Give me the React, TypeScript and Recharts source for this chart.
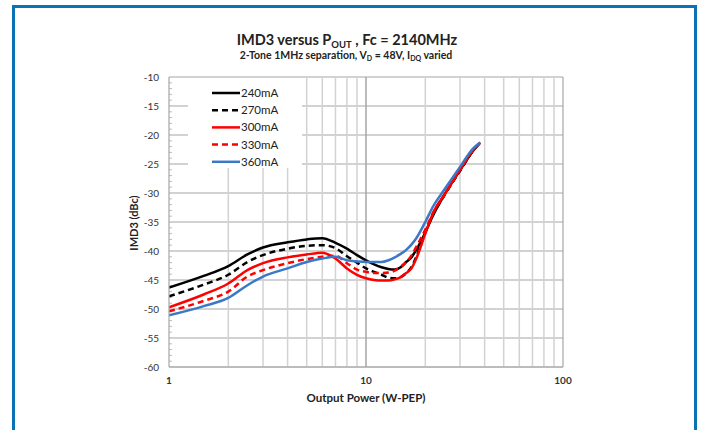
import React from 'react';
import { LineChart, Line, XAxis, YAxis, CartesianGrid, ReferenceLine } from 'recharts';

// output power (W-PEP) sample points
const power = [1, 1.5, 2, 2.5, 3, 4, 5, 6, 7, 8, 9, 10, 11, 12, 13, 14, 15, 16, 17, 18, 20, 22, 25, 30, 35, 38];

// IMD3 (dBc) per quiescent current
const idq240 = [-46.3, -44.3, -42.6, -40.6, -39.4, -38.5, -38.0, -37.8, -38.6, -39.6, -40.7, -41.6, -42.3, -42.8, -43.1, -43.2, -42.8, -41.9, -41.1, -39.8, -36.8, -33.7, -30.3, -26.1, -22.7, -21.3];
const idq270 = [-47.8, -45.8, -44.1, -41.9, -40.7, -39.6, -39.1, -39.0, -39.5, -40.9, -42.0, -43.0, -43.6, -44.1, -44.6, -44.7, -44.5, -43.8, -42.8, -41.0, -36.8, -33.6, -30.4, -26.2, -22.7, -21.3];
const idq300 = [-49.7, -47.5, -45.6, -43.3, -42.1, -41.1, -40.6, -40.3, -41.3, -43.0, -44.1, -44.7, -45.0, -45.1, -45.1, -44.9, -44.5, -43.8, -43.0, -41.3, -37.0, -33.3, -30.3, -26.0, -22.6, -21.3];
const idq330 = [-50.4, -48.6, -47.0, -44.4, -43.3, -42.1, -41.4, -41.0, -40.8, -42.1, -43.2, -43.6, -43.8, -43.8, -43.7, -43.4, -42.7, -41.9, -40.8, -39.3, -36.3, -33.3, -30.3, -26.0, -22.6, -21.3];
const idq360 = [-51.1, -49.5, -48.1, -45.9, -44.4, -43.0, -41.9, -41.3, -41.0, -41.6, -41.8, -41.9, -41.9, -41.9, -41.6, -41.1, -40.5, -39.8, -38.9, -37.8, -35.0, -32.2, -29.4, -25.5, -22.3, -21.3];

const xTicks = [1, 10, 100];
const xMinor = [2, 3, 4, 5, 6, 7, 8, 9, 20, 30, 40, 50, 60, 70, 80, 90];
const yTicks = [-60, -55, -50, -45, -40, -35, -30, -25, -20, -15, -10];
const yMinor = Array.from({ length: 51 }, (_, i) => -60 + i).filter(v => v % 5 !== 0);

const series = [
    { key: 'i240', name: '240mA', values: idq240, color: '#000000', dash: undefined },
    { key: 'i270', name: '270mA', values: idq270, color: '#000000', dash: '6 4' },
    { key: 'i300', name: '300mA', values: idq300, color: '#ff0000', dash: undefined },
    { key: 'i330', name: '330mA', values: idq330, color: '#ff0000', dash: '6 4' },
    { key: 'i360', name: '360mA', values: idq360, color: '#3c78c8', dash: undefined },
];

const data = power.map((p, i) => {
    const row: Record<string, number> = { p };
    series.forEach(s => { row[s.key] = s.values[i]; });
    return row;
});

const FONT = 'Lato, "Open Sans", sans-serif';

const LegendBox = () => (
    <div style={{ position: 'absolute', left: 188, top: 78, background: '#fff', width: 114, height: 90, fontFamily: FONT }}>
        <svg width={114} height={90}>
            {series.map((s, i) => {
                const y = 15 + i * 17.2;
                return (
                    <g key={s.key}>
                        <line x1={24} x2={52} y1={y} y2={y} stroke={s.color} strokeWidth={2.5} strokeDasharray={s.dash} />
                        <text x={53} y={y + 4} fontSize={11.5} fill="#222">{s.name}</text>
                    </g>
                );
            })}
        </svg>
    </div>
);

export default function App() {
    return (
        <div style={{ position: 'absolute', left: 0, top: 0, width: 702, height: 430, background: '#fff', overflow: 'hidden' }}>
            <div style={{ position: 'absolute', left: 12, top: 5, width: 679, height: 440, border: '3px solid #0b72b5' }} />
            <div style={{ position: 'absolute', left: 0, top: 0 }}>
                <LineChart width={702} height={430} data={data} margin={{ top: 77, right: 139, bottom: 0, left: 0 }}>
                    <CartesianGrid vertical={false} stroke="#a6a6a6" strokeWidth={1.2} />
                    {xMinor.map(v => (
                        <ReferenceLine key={`vx${v}`} x={v} stroke="#d2d2d2" strokeWidth={1.5} />
                    ))}
                    <ReferenceLine x={10} stroke="#a6a6a6" strokeWidth={1.5} />
                    <ReferenceLine x={100} stroke="#a6a6a6" strokeWidth={1.2} />
                    {yMinor.map(v => (
                        <ReferenceLine key={`my${v}`} segment={[{ x: 1, y: v }, { x: 1.035, y: v }]} stroke="#bbbbbb" />
                    ))}
                    <XAxis
                        dataKey="p"
                        type="number"
                        scale="log"
                        domain={[1, 100]}
                        ticks={xTicks}
                        allowDataOverflow
                        height={63}
                        tickLine={false}
                        tickSize={0}
                        tickMargin={10}
                        axisLine={{ stroke: '#a6a6a6', strokeWidth: 1.2 }}
                        tick={{ fontSize: 10, fill: '#333', fontFamily: FONT, fontWeight: 700 }}
                    />
                    <YAxis
                        type="number"
                        domain={[-60, -10]}
                        ticks={yTicks}
                        width={169}
                        tickLine={false}
                        tickSize={0}
                        tickMargin={10}
                        axisLine={{ stroke: '#a6a6a6', strokeWidth: 1.2 }}
                        tick={{ fontSize: 10, fill: '#333', fontFamily: FONT }}
                    />
                    {series.map(s => (
                        <Line
                            key={s.key}
                            dataKey={s.key}
                            name={s.name}
                            type="monotone"
                            stroke={s.color}
                            strokeWidth={2.5}
                            strokeDasharray={s.dash}
                            dot={false}
                            isAnimationActive={false}
                        />
                    ))}
                </LineChart>
            </div>
            <LegendBox />
            <svg width={702} height={430} style={{ position: 'absolute', left: 0, top: 0, pointerEvents: 'none', fontFamily: FONT }}>
                <text x={347} y={45} textAnchor="middle" fontSize={14.5} fontWeight={700} fill="#222">
                    IMD3 versus P<tspan fontSize={9.5} dy={3}>OUT</tspan><tspan dy={-3}> , Fc = 2140MHz</tspan>
                </text>
                <text x={346} y={59} textAnchor="middle" fontSize={10.5} fontWeight={700} fill="#222">
                    2-Tone 1MHz separation, V<tspan fontSize={7} dy={2}>D</tspan><tspan dy={-2}> = 48V, I</tspan><tspan fontSize={7} dy={2}>DQ</tspan><tspan dy={-2}> varied</tspan>
                </text>
                <text x={0} y={0} transform="translate(138,223) rotate(-90)" textAnchor="middle" fontSize={11} fontWeight={700} fill="#222">IMD3 (dBc)</text>
                <text x={366} y={402} textAnchor="middle" fontSize={11.5} fontWeight={700} fill="#222">Output Power (W-PEP)</text>
            </svg>
        </div>
    );
}
